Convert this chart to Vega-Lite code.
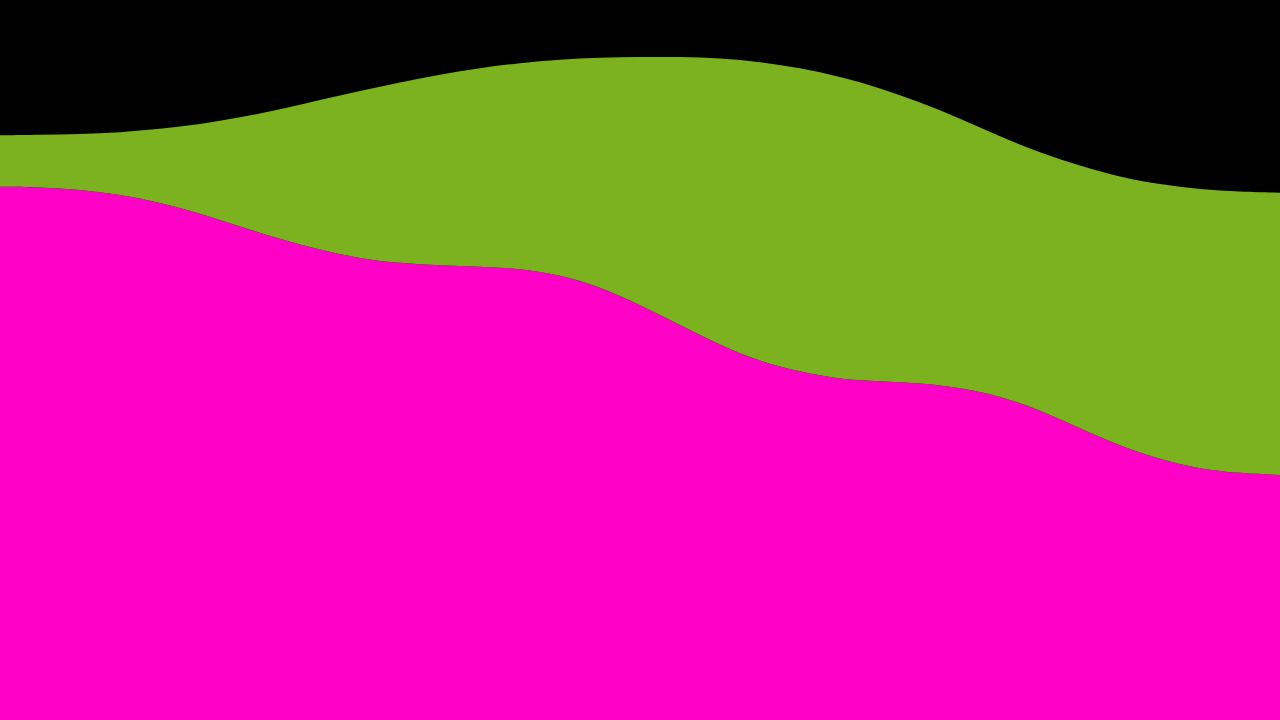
{
  "$schema": "https://vega.github.io/schema/vega-lite/v6.json",
  "autosize": {"type": "fit", "contains": "padding"},
  "width": 1280,
  "height": 720,
  "padding": 0,
  "background": "#000000",
  "config": {"view": {"stroke": null}},
  "data": {
    "values": [
      {"x": 0, "base": 533.3, "top": 51.4},
      {"x": 40, "base": 532.8, "top": 52.4},
      {"x": 80, "base": 530.5, "top": 55.5},
      {"x": 120, "base": 525.5, "top": 62},
      {"x": 160, "base": 517.5, "top": 73.5},
      {"x": 200, "base": 506.7, "top": 88.8},
      {"x": 240, "base": 493.3, "top": 109.2},
      {"x": 280, "base": 481, "top": 129.5},
      {"x": 320, "base": 470, "top": 150},
      {"x": 360, "base": 461.5, "top": 167.5},
      {"x": 400, "base": 456.7, "top": 180.8},
      {"x": 440, "base": 454.5, "top": 191},
      {"x": 480, "base": 453.5, "top": 198.5},
      {"x": 520, "base": 451.5, "top": 205.5},
      {"x": 560, "base": 445, "top": 215.7},
      {"x": 600, "base": 433.3, "top": 229.1},
      {"x": 640, "base": 415, "top": 248.1},
      {"x": 680, "base": 395, "top": 268.2},
      {"x": 720, "base": 375, "top": 287},
      {"x": 760, "base": 358.3, "top": 300},
      {"x": 800, "base": 348.3, "top": 303.7},
      {"x": 840, "base": 340.5, "top": 303},
      {"x": 880, "base": 338.7, "top": 293.3},
      {"x": 920, "base": 337, "top": 281},
      {"x": 960, "base": 332.5, "top": 269.2},
      {"x": 1000, "base": 324, "top": 259.3},
      {"x": 1040, "base": 310, "top": 257.3},
      {"x": 1080, "base": 291.5, "top": 262.5},
      {"x": 1120, "base": 274, "top": 269},
      {"x": 1160, "base": 260.5, "top": 275},
      {"x": 1200, "base": 251, "top": 279.7},
      {"x": 1240, "base": 246.7, "top": 281.6},
      {"x": 1280, "base": 245, "top": 282.3}
    ]
  },
  "transform": [{"fold": ["base", "top"], "as": ["layer", "v"]}],
  "mark": {"type": "area", "interpolate": "basis"},
  "encoding": {
    "x": {"field": "x", "type": "quantitative", "axis": null, "scale": {"domain": [0, 1280], "nice": false, "zero": false}},
    "y": {"field": "v", "type": "quantitative", "stack": "zero", "axis": null, "scale": {"domain": [0, 720], "nice": false}},
    "color": {"field": "layer", "type": "nominal", "legend": null, "scale": {"domain": ["base", "top"], "range": ["#ff00c6", "#7cb220"]}},
    "order": {"field": "layer", "type": "ordinal"}
  }
}
